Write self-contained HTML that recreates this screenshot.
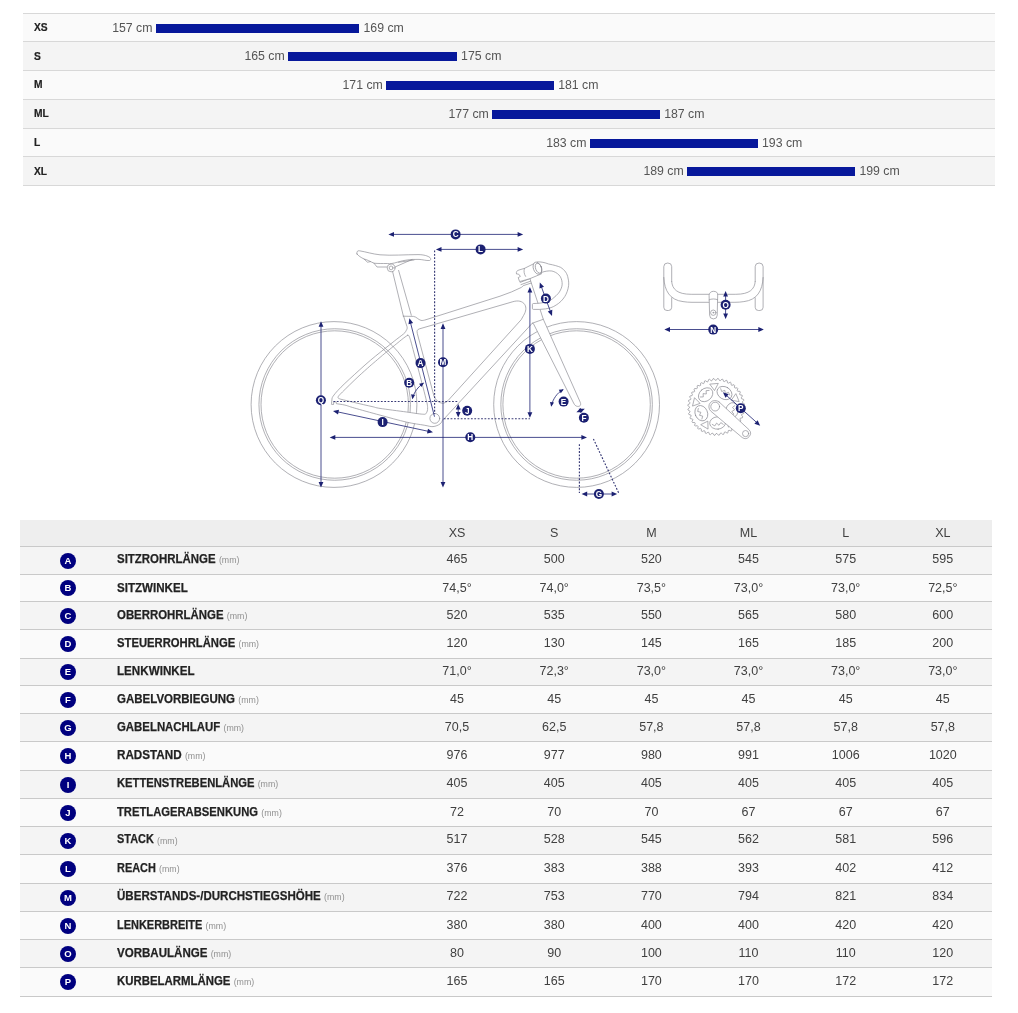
<!DOCTYPE html>
<html lang="de"><head><meta charset="utf-8"><title>Geometrie</title>
<style>
html,body{margin:0;padding:0;background:#fff;}
body{width:1018px;height:1013px;position:relative;overflow:hidden;font-family:"Liberation Sans", sans-serif;color:#333;}
.abs{position:absolute;}
.row{position:absolute;left:23px;width:972px;}
.hl{position:absolute;height:1px;background:#d8d8d8;}
.hg{position:absolute;height:1px;background:#c9c9c9;}
.sz{position:absolute;left:34px;font-weight:bold;font-size:11px;line-height:12px;color:#222;transform-origin:0 50%;transform:scaleX(0.93);-webkit-text-stroke:0.2px #222;}
.cm{position:absolute;font-size:12.3px;line-height:12px;color:#555;white-space:nowrap;}
.bar{position:absolute;background:#07189b;}
.g{position:absolute;left:20px;width:971.5px;}
.ic{position:absolute;left:60px;width:16px;height:16px;border-radius:50%;background:#00007f;color:#fff;font-weight:bold;font-size:9.5px;line-height:16px;text-align:center;}
.lb{position:absolute;left:116.6px;font-weight:bold;font-size:12.5px;line-height:14px;color:#222;white-space:nowrap;-webkit-text-stroke:0.25px #222;}
.lb span{display:inline-block;transform-origin:0 50%;}
.mm{position:absolute;font-size:8.8px;line-height:10px;color:#909090;white-space:nowrap;}
.v{position:absolute;width:98px;text-align:center;font-size:12.5px;line-height:14px;color:#404040;white-space:nowrap;}
</style></head><body>
<div class="row" style="top:13px;height:28px;background:#fafafa"></div>
<div class="row" style="top:41px;height:29px;background:#f4f4f4"></div>
<div class="row" style="top:70px;height:29px;background:#fafafa"></div>
<div class="row" style="top:99px;height:29px;background:#f4f4f4"></div>
<div class="row" style="top:128px;height:28px;background:#fafafa"></div>
<div class="row" style="top:156px;height:29px;background:#f4f4f4"></div>
<div class="hl" style="left:23px;width:972px;top:13px"></div>
<div class="hl" style="left:23px;width:972px;top:41px"></div>
<div class="hl" style="left:23px;width:972px;top:70px"></div>
<div class="hl" style="left:23px;width:972px;top:99px"></div>
<div class="hl" style="left:23px;width:972px;top:128px"></div>
<div class="hl" style="left:23px;width:972px;top:156px"></div>
<div class="hl" style="left:23px;width:972px;top:185px"></div>
<div class="sz" style="top:21.2px">XS</div>
<div class="cm" style="right:865.5px;top:21.6px">157 cm</div>
<div class="bar" style="left:156.0px;top:24.0px;width:203.2px;height:9.0px"></div>
<div class="cm" style="left:363.5px;top:21.6px">169 cm</div>
<div class="sz" style="top:49.7px">S</div>
<div class="cm" style="right:733.3px;top:50.1px">165 cm</div>
<div class="bar" style="left:288.2px;top:52.0px;width:168.6px;height:9.0px"></div>
<div class="cm" style="left:461.1px;top:50.1px">175 cm</div>
<div class="sz" style="top:78.1px">M</div>
<div class="cm" style="right:635.2px;top:79.1px">171 cm</div>
<div class="bar" style="left:386.3px;top:81.0px;width:167.6px;height:9.0px"></div>
<div class="cm" style="left:558.2px;top:79.1px">181 cm</div>
<div class="sz" style="top:107.1px">ML</div>
<div class="cm" style="right:529.2px;top:108.1px">177 cm</div>
<div class="bar" style="left:492.3px;top:110.0px;width:167.6px;height:9.0px"></div>
<div class="cm" style="left:664.2px;top:108.1px">187 cm</div>
<div class="sz" style="top:136.2px">L</div>
<div class="cm" style="right:431.5px;top:136.6px">183 cm</div>
<div class="bar" style="left:590.0px;top:139.0px;width:167.7px;height:9.0px"></div>
<div class="cm" style="left:762.0px;top:136.6px">193 cm</div>
<div class="sz" style="top:164.7px">XL</div>
<div class="cm" style="right:334.3px;top:165.1px">189 cm</div>
<div class="bar" style="left:687.2px;top:167.0px;width:167.9px;height:9.0px"></div>
<div class="cm" style="left:859.4px;top:165.1px">199 cm</div>
<svg class="abs" style="left:0;top:0" width="1018" height="1013" viewBox="0 0 1018 1013">
<g fill="none" stroke="#8e8e95" stroke-width="0.7" stroke-linecap="round" stroke-linejoin="round">
<circle cx="334.0" cy="404.5" r="82.9" stroke-linecap="butt"/>
<circle cx="334.7" cy="404.5" r="75.75" stroke-linecap="butt"/>
<circle cx="334.7" cy="404.5" r="73.7" stroke-linecap="butt"/>
<circle cx="576.6" cy="404.5" r="82.9" stroke-linecap="butt"/>
<circle cx="576.6" cy="404.5" r="75.75" stroke-linecap="butt"/>
<circle cx="576.6" cy="404.5" r="73.7" stroke-linecap="butt"/>
<path d="M357,254 C356.5,251.5 357.5,250.5 359.5,250.8 C366,251.8 372,254 380,254.8 C392,255.8 405,254.6 418,254.6 C424,254.6 428,256 430,257.6 C431.2,258.8 430.8,260.3 429.5,260.5 C426,260.8 423,259.6 419,259.4 C411,259.2 404,260 398,262 C393,263.5 390,264 387.5,263.5 C382,263.5 378,263.6 374,263.2 C370,261.5 367,259.5 364,259 C361,257.5 358.5,256 357,254 Z"/>
<path d="M364,259 L367.5,262.2 L370.5,261.6 M374,263.2 L377,267 L387,267 M395,267 L412,259.5 M398.5,262.3 L414,260"/>
<circle cx="391.1" cy="267.9" r="3.9" fill="#fff"/><circle cx="391.1" cy="267.9" r="1.9"/>
<path d="M392.6,271.6 L403.4,316.2 M398.6,270.4 L411.3,315.2"/>
<path fill="#fff" fill-rule="evenodd" d="M403.6,316.2 L413.5,316.4 C416.5,316.8 418,319.5 421,320.4 C422.5,320.7 424,320.3 426,319.7 L500,296.2 Q512,292.2 521.6,287.3 L523.2,285.7 L531.3,283 L543.3,319.3 L580.3,402.4 C581.4,405.2 579.8,406.6 577.6,406.4 C575.6,406.2 574.6,405 573.6,403 L533.4,323.6 L532.3,323.2 L443.8,419.2 C443.6,419.3 443.4,418.8 442.8,419.6 C442.2,420.4 441.7,422.7 440.1,423.9 C438.5,425.1 435.6,426.4 433.0,426.6 C430.4,426.8 428.6,425.9 424.2,425.2 C419.8,424.4 413.9,423.8 406.5,422.1 C399.1,420.4 388.7,417.5 380.0,415.1 C371.3,412.8 360.2,409.7 354.3,408.0 C348.4,406.3 347.9,405.8 344.9,405.1 C341.9,404.4 337.8,403.9 336.4,403.7 L336.1,401.8 L333.8,401.9 L333.5,404.5 L331.4,404.3 L331.5,403.7 L332.1,398.1 C332.3,397.8 332.2,397.5 333.1,396.2 C334.1,394.9 335.8,392.6 337.8,390.5 C339.8,388.4 342.1,386.0 344.9,383.4 C347.6,380.8 350.9,377.8 354.3,374.7 C357.7,371.6 361.5,368.1 365.0,365.0 C368.5,361.9 372.1,358.9 375.4,356.2 C378.7,353.5 381.8,351.1 384.9,348.6 C388.0,346.1 391.2,343.6 394.3,341.1 C397.4,338.6 401.7,335.5 403.7,333.8 C405.7,332.1 405.5,331.6 406.1,330.7 C406.7,329.8 407.1,328.9 407.2,328.2 C407.3,327.5 407.0,326.9 407.0,326.6 L403.6,316.2 Z M417.2,333 C416.6,330.6 417.4,329.4 419.6,328.8 L512.9,301.7 C518,300.2 522.5,301 524.8,304.6 C526.6,307.6 526,311.5 523.6,315.4 L521.2,319.7 L448,400.6 C446.4,402.4 444,403.4 442,403.2 C438.6,402.8 435.6,400 434.1,396.4 Z M407.5,335.4 C406.9,335.8 405.9,336.3 403.7,338.0 C401.5,339.7 397.4,343.1 394.3,345.6 C391.2,348.2 388.0,350.7 384.9,353.3 C381.8,355.9 377.9,359.2 375.4,361.4 C372.9,363.5 372.5,363.8 369.8,366.2 C367.1,368.6 362.4,372.8 359.0,375.9 C355.6,379.0 352.4,382.2 349.6,384.9 C346.9,387.6 344.4,390.0 342.5,391.9 C340.6,393.8 339.2,395.2 338.5,396.2 C337.8,397.2 338.0,397.6 338.3,398.1 C338.6,398.6 339.0,398.6 340.1,399.0 C341.2,399.4 342.5,399.6 344.9,400.2 C347.3,400.8 351.2,401.8 354.3,402.5 C357.4,403.2 360.6,404.0 363.7,404.7 C366.8,405.4 370.4,406.2 373.1,406.8 C375.8,407.4 374.4,407.5 380.0,408.4 C385.6,409.3 399.4,411.0 406.5,412.0 C413.6,413.0 419.3,414.0 422.6,414.2 C425.9,414.4 425.4,414.3 426.2,413.2 C427.0,412.1 427.8,410.4 427.6,407.5 C427.4,404.6 427.6,405.3 425.2,395.7 C422.8,386.1 415.7,359.4 413.1,349.6 C410.5,339.8 410.3,339.2 409.4,336.8 C408.5,334.4 407.8,335.6 407.5,335.4 Z"/>
<clipPath id="ssb"><polygon points="403.7,333.8 394.3,341.1 384.9,348.6 375.4,356.2 365.0,365.0 354.3,374.7 344.9,383.4 337.8,390.5 342.5,391.9 349.6,384.9 359.0,375.9 369.8,366.2 375.4,361.4 384.9,353.3 394.3,345.6 403.7,338.0"/></clipPath>
<g clip-path="url(#ssb)"><circle cx="334.0" cy="404.5" r="82.9"/><circle cx="334.7" cy="404.5" r="75.75"/><circle cx="334.7" cy="404.5" r="73.7"/></g>
<circle cx="434.8" cy="418.4" r="4.9" fill="#fff"/>
<path d="M532.3,323.2 L543.3,319.3"/>
<path d="M521,284.6 L530.5,281.2 M520.2,282.4 L530,278.6 M530,278.6 L531.3,283"/>
<path fill="#fff" d="M516.4,273.6 C516,271.6 517,270.6 519,270 L524.4,268.4 L536,262.6 L541.6,273.8 L530,278.6 L519.6,281.6 L518.2,277.6 L520.4,276.4 L518.8,274.4 Z"/>
<path d="M524.4,268.4 C523.6,271 524,274 525.6,276.4"/>
<path fill="#fff" d="M537.3,261.9 C541,261.6 545,262.6 548.6,264 C554,265 558,266.2 560.5,267.3 C565,270 567.4,274 568,278 C568.8,281 568.8,283.5 568.6,285.7 C568,290 566.6,293.6 564.8,296.5 C562.6,300 559.6,303 556.2,305 C553,307.2 549.4,308.4 545.4,308.9 C541.4,309.5 537.4,309.5 533.5,309.4 C532.7,309.4 532.4,309 532.4,308.4 L532.4,304.5 C532.4,303.8 532.8,303.5 533.5,303.5 C538,303.5 542.4,303 546.5,301.9 C549.4,301 552,299.5 554,297.5 C557,295 559.4,292.6 560.5,290 C561.8,287.5 562.4,285 562.1,282.4 C561.8,279.4 560.8,276.8 558.9,274.9 C557,273 554.6,271.6 551.9,271 C548.6,270.6 545,271.2 541.6,272.4 Z"/>
<ellipse cx="537.4" cy="268.2" rx="4.0" ry="6.3" transform="rotate(-20 537.4 268.2)" fill="#fff"/>
<ellipse cx="538.6" cy="268.2" rx="3.0" ry="5.2" transform="rotate(-20 538.6 268.2)"/>
<path d="M671.7,281.6 L671.7,266.6 A3.95,3.6 0 0 0 663.8,266.6 L663.8,307.3 A3.2,3.2 0 0 0 667.0,310.5 L668.5,310.5 A3.2,3.2 0 0 0 671.7,307.3 L671.7,297.8"/>
<path d="M755.2,281.6 L755.2,266.6 A3.95,3.6 0 0 1 763.1,266.6 L763.1,307.3 A3.2,3.2 0 0 1 759.9,310.5 L758.4,310.5 A3.2,3.2 0 0 1 755.2,307.3 L755.2,297.8"/>
<path d="M671.7,281.6 C672.2,289 677,294.3 691.2,294.3 L709.1,294.3 M717.7,294.3 L735.7,294.3 C749.9,294.3 754.7,289 755.2,281.6"/>
<path d="M663.8,277.5 C664.4,291 670,300 683,301.6 C686,302.1 689,302.3 692,302.3 L709.1,302.3 M717.7,302.3 L734.9,302.3 C737.9,302.3 740.9,302.1 743.9,301.6 C756.9,300 762.5,291 763.1,277.5"/>
<path fill="#fff" d="M709.1,295 A4.3,3.7 0 0 1 717.7,295 L717.2,315.4 A3.8,3.5 0 0 1 709.6,315.4 Z"/>
<path d="M709.1,299.8 C711,298.6 716,298.6 717.7,299.8"/>
<circle cx="713.3" cy="312.7" r="2.7"/><circle cx="713.3" cy="312.7" r="0.5"/>
<polygon points="742.8,406.9 744.6,408.2 744.5,409.1 742.6,410.2 742.5,411.1 744.0,412.7 743.8,413.5 741.7,414.3 741.5,415.1 742.8,416.9 742.4,417.8 740.3,418.2 739.9,419.0 740.9,421.0 740.4,421.7 738.2,421.9 737.7,422.5 738.4,424.7 737.8,425.3 735.6,425.1 735.0,425.7 735.3,427.9 734.6,428.5 732.5,427.9 731.8,428.4 731.8,430.6 731.0,431.1 729.0,430.2 728.3,430.6 727.9,432.8 727.1,433.1 725.2,431.9 724.4,432.2 723.7,434.3 722.8,434.5 721.2,433.0 720.4,433.2 719.3,435.1 718.4,435.2 717.0,433.5 716.2,433.5 714.9,435.3 714.0,435.2 712.9,433.3 712.0,433.2 710.4,434.7 709.6,434.5 708.8,432.4 708.0,432.2 706.2,433.5 705.3,433.1 704.9,431.0 704.1,430.6 702.1,431.6 701.4,431.1 701.2,428.9 700.6,428.4 698.4,429.1 697.8,428.5 698.0,426.3 697.4,425.7 695.2,426.0 694.6,425.3 695.2,423.2 694.7,422.5 692.5,422.5 692.0,421.7 692.9,419.7 692.5,419.0 690.3,418.6 690.0,417.8 691.2,415.9 690.9,415.1 688.8,414.4 688.6,413.5 690.1,411.9 689.9,411.1 688.0,410.0 687.9,409.1 689.6,407.7 689.6,406.9 687.8,405.6 687.9,404.7 689.8,403.6 689.9,402.7 688.4,401.1 688.6,400.3 690.7,399.5 690.9,398.7 689.6,396.9 690.0,396.0 692.1,395.6 692.5,394.8 691.5,392.8 692.0,392.1 694.2,391.9 694.7,391.3 694.0,389.1 694.6,388.5 696.8,388.7 697.4,388.1 697.1,385.9 697.8,385.3 699.9,385.9 700.6,385.4 700.6,383.2 701.4,382.7 703.4,383.6 704.1,383.2 704.5,381.0 705.3,380.7 707.2,381.9 708.0,381.6 708.7,379.5 709.6,379.3 711.2,380.8 712.0,380.6 713.1,378.7 714.0,378.6 715.4,380.3 716.2,380.3 717.5,378.5 718.4,378.6 719.5,380.5 720.4,380.6 722.0,379.1 722.8,379.3 723.6,381.4 724.4,381.6 726.2,380.3 727.1,380.7 727.5,382.8 728.3,383.2 730.3,382.2 731.0,382.7 731.2,384.9 731.8,385.4 734.0,384.7 734.6,385.3 734.4,387.5 735.0,388.1 737.2,387.8 737.8,388.5 737.2,390.6 737.7,391.3 739.9,391.3 740.4,392.1 739.5,394.1 739.9,394.8 742.1,395.2 742.4,396.0 741.2,397.9 741.5,398.7 743.6,399.4 743.8,400.3 742.3,401.9 742.5,402.7 744.4,403.8 744.5,404.7 742.8,406.1"/>
<ellipse cx="705.6" cy="394.7" rx="6.2" ry="7.9" transform="rotate(-131 705.6 394.7)"/>
<polyline points="700.3,397.0 703.3,396.9 703.1,393.6 706.3,394.0 706.1,390.7 709.1,390.4"/>
<ellipse cx="724.5" cy="393.0" rx="6.2" ry="7.9" transform="rotate(-59 724.5 393.0)"/>
<polyline points="720.7,388.7 721.7,391.5 724.8,390.3 725.4,393.5 728.5,392.3 729.7,395.1"/>
<ellipse cx="732.0" cy="410.5" rx="6.2" ry="7.9" transform="rotate(13 732.0 410.5)"/>
<polyline points="734.9,405.6 732.5,407.4 734.6,409.9 731.8,411.5 733.8,414.1 731.6,416.1"/>
<ellipse cx="717.6" cy="423.0" rx="6.2" ry="7.9" transform="rotate(85 717.6 423.0)"/>
<polyline points="723.2,424.3 720.8,422.6 719.0,425.3 716.6,423.1 714.8,425.9 712.2,424.4"/>
<ellipse cx="701.3" cy="413.2" rx="6.2" ry="7.9" transform="rotate(157 701.3 413.2)"/>
<polyline points="701.9,419.0 702.7,416.1 699.5,415.3 700.9,412.3 697.7,411.5 698.3,408.5"/>
<polygon points="710.1,384.1 718.3,383.4 714.7,390.2"/>
<polygon points="736.0,394.0 739.2,401.6 731.7,400.3"/>
<polygon points="734.5,421.8 728.4,427.1 727.2,419.6"/>
<polygon points="707.7,428.9 700.7,424.7 707.5,421.3"/>
<polygon points="692.6,405.7 694.5,397.7 699.8,403.1"/>
<path d="M719.1,401.95 L749,429.7 A5.2,5.2 0 0 1 742.2,437.5 L710.9,411.25 A6.2,6.2 0 0 1 719.1,401.95 Z" fill="#fff"/>
<circle cx="715.2" cy="406.6" r="4.4"/>
<circle cx="745.6" cy="433.6" r="3.1"/>
</g>
<g stroke="#1c2172" stroke-width="0.8" fill="none">
<line x1="391.4" y1="234.4" x2="520.2" y2="234.4"/><polygon fill="#1c2172" stroke="none" points="523.2,234.4 517.6,236.8 517.6,232.0"/><polygon fill="#1c2172" stroke="none" points="388.4,234.4 394.0,232.0 394.0,236.8"/>
<line x1="438.9" y1="249.4" x2="520.2" y2="249.4"/><polygon fill="#1c2172" stroke="none" points="523.2,249.4 517.6,251.8 517.6,247.0"/><polygon fill="#1c2172" stroke="none" points="435.9,249.4 441.5,247.0 441.5,251.8"/>
<line x1="321.0" y1="324.2" x2="321.0" y2="484.5"/><polygon fill="#1c2172" stroke="none" points="321.0,487.5 318.6,481.9 323.4,481.9"/><polygon fill="#1c2172" stroke="none" points="321.0,321.2 323.4,326.8 318.6,326.8"/>
<line x1="443.0" y1="326.3" x2="443.0" y2="484.5"/><polygon fill="#1c2172" stroke="none" points="443.0,487.5 440.6,481.9 445.4,481.9"/><polygon fill="#1c2172" stroke="none" points="443.0,323.3 445.4,328.9 440.6,328.9"/>
<line x1="434.5" y1="416.7" x2="410.1" y2="321.1"/><polygon fill="#1c2172" stroke="none" points="409.4,318.2 413.1,323.0 408.5,324.2"/>
<line x1="529.9" y1="290.0" x2="529.9" y2="414.8"/><polygon fill="#1c2172" stroke="none" points="529.9,417.8 527.5,412.2 532.3,412.2"/><polygon fill="#1c2172" stroke="none" points="529.9,287.0 532.3,292.6 527.5,292.6"/>
<line x1="540.8" y1="285.2" x2="551.0" y2="313.1"/><polygon fill="#1c2172" stroke="none" points="552.0,315.9 547.8,311.5 552.3,309.8"/><polygon fill="#1c2172" stroke="none" points="539.8,282.4 544.0,286.8 539.5,288.5"/>
<line x1="335.9" y1="411.5" x2="430.1" y2="431.7"/><polygon fill="#1c2172" stroke="none" points="433.0,432.3 427.0,433.5 428.0,428.8"/><polygon fill="#1c2172" stroke="none" points="333.0,410.9 339.0,409.7 338.0,414.4"/>
<line x1="332.7" y1="437.4" x2="584.0" y2="437.4"/><polygon fill="#1c2172" stroke="none" points="587.0,437.4 581.4,439.8 581.4,435.0"/><polygon fill="#1c2172" stroke="none" points="329.7,437.4 335.3,435.0 335.3,439.8"/>
<line x1="458.2" y1="406.9" x2="458.2" y2="414.6"/><polygon fill="#1c2172" stroke="none" points="458.2,417.6 455.8,412.0 460.6,412.0"/><polygon fill="#1c2172" stroke="none" points="458.2,403.9 460.6,409.5 455.8,409.5"/>
<line x1="584.6" y1="494.0" x2="614.2" y2="494.0"/><polygon fill="#1c2172" stroke="none" points="617.2,494.0 611.6,496.4 611.6,491.6"/><polygon fill="#1c2172" stroke="none" points="581.6,494.0 587.2,491.6 587.2,496.4"/>
<line x1="667.4" y1="329.5" x2="760.9" y2="329.5"/><polygon fill="#1c2172" stroke="none" points="763.9,329.5 758.3,331.9 758.3,327.1"/><polygon fill="#1c2172" stroke="none" points="664.4,329.5 670.0,327.1 670.0,331.9"/>
<line x1="725.6" y1="294.0" x2="725.6" y2="316.0"/><polygon fill="#1c2172" stroke="none" points="725.6,319.0 723.2,313.4 728.0,313.4"/><polygon fill="#1c2172" stroke="none" points="725.6,291.0 728.0,296.6 723.2,296.6"/>
<line x1="725.1" y1="394.2" x2="758.0" y2="423.7"/><polygon fill="#1c2172" stroke="none" points="760.2,425.7 754.4,423.7 757.6,420.2"/><polygon fill="#1c2172" stroke="none" points="722.9,392.2 728.7,394.2 725.5,397.7"/>
<line x1="579.2" y1="411.1" x2="582.0" y2="409.9"/><polygon fill="#1c2172" stroke="none" points="584.8,408.7 580.6,413.1 578.7,408.7"/><polygon fill="#1c2172" stroke="none" points="576.4,412.3 580.6,407.9 582.5,412.3"/>
<path d="M423.4,383.2 C418,387 414,392 412.6,398.4"/>
<polygon fill="#1c2172" stroke="none" points="424.0,382.8 421.4,387.1 419.1,383.8"/><polygon fill="#1c2172" stroke="none" points="412.3,399.2 411.1,394.3 415.1,395.0"/>
<path d="M563,389.6 C557,393 553,399 551.4,405.6"/>
<polygon fill="#1c2172" stroke="none" points="563.8,389.2 560.8,393.2 558.8,389.8"/><polygon fill="#1c2172" stroke="none" points="551.2,406.8 550.0,401.9 554.0,402.6"/>
<g stroke-width="1.15" stroke="#383a76">
<line stroke-dasharray="1.8 1.59" x1="434.6" y1="250.5" x2="434.6" y2="414"/>
<line stroke-dasharray="1.8 1.59" x1="333.4" y1="401.5" x2="458.4" y2="401.5"/>
<line stroke-dasharray="1.8 1.59" x1="443.8" y1="418.7" x2="529.9" y2="418.7"/>
<line stroke-dasharray="1.8 1.59" x1="579.4" y1="444.3" x2="579.4" y2="493"/>
<line stroke-dasharray="1.8 1.59" x1="593.4" y1="438.9" x2="618.9" y2="493.4"/>
</g>
</g>
<g font-family="Liberation Sans, sans-serif" font-weight="bold" font-size="8.2" text-anchor="middle" fill="#fff">
<circle cx="455.6" cy="234.4" r="5" fill="#1c2172"/><text x="455.6" y="237.3">C</text>
<circle cx="480.6" cy="249.4" r="5" fill="#1c2172"/><text x="480.6" y="252.3">L</text>
<circle cx="320.9" cy="400.2" r="5" fill="#1c2172"/><text x="320.9" y="403.1">Q</text>
<circle cx="443.0" cy="362.2" r="5" fill="#1c2172"/><text x="443.0" y="365.1">M</text>
<circle cx="420.5" cy="363.1" r="5" fill="#1c2172"/><text x="420.5" y="366.1">A</text>
<circle cx="409.2" cy="382.8" r="5" fill="#1c2172"/><text x="409.2" y="385.8">B</text>
<circle cx="529.9" cy="348.9" r="5" fill="#1c2172"/><text x="529.9" y="351.8">K</text>
<circle cx="545.9" cy="298.6" r="5" fill="#1c2172"/><text x="545.9" y="301.6">D</text>
<circle cx="382.6" cy="422.1" r="5" fill="#1c2172"/><text x="382.6" y="425.1">I</text>
<circle cx="470.3" cy="437.3" r="5" fill="#1c2172"/><text x="470.3" y="440.2">H</text>
<circle cx="467.2" cy="410.7" r="5" fill="#1c2172"/><text x="467.2" y="413.6">J</text>
<circle cx="563.6" cy="401.6" r="5" fill="#1c2172"/><text x="563.6" y="404.6">E</text>
<circle cx="583.9" cy="417.8" r="5" fill="#1c2172"/><text x="583.9" y="420.8">F</text>
<circle cx="598.9" cy="494.0" r="5" fill="#1c2172"/><text x="598.9" y="496.9">G</text>
<circle cx="713.2" cy="329.6" r="5" fill="#1c2172"/><text x="713.2" y="332.6">N</text>
<circle cx="725.6" cy="304.7" r="5" fill="#1c2172"/><text x="725.6" y="307.6">O</text>
<circle cx="740.8" cy="408.2" r="5" fill="#1c2172"/><text x="740.8" y="411.1">P</text>
</g>
</svg>
<div class="g" style="top:520px;height:26px;background:#eeeeee"></div>
<div class="v" style="left:408.0px;top:525.8px">XS</div>
<div class="v" style="left:505.2px;top:525.8px">S</div>
<div class="v" style="left:602.4px;top:525.8px">M</div>
<div class="v" style="left:699.5px;top:525.8px">ML</div>
<div class="v" style="left:796.7px;top:525.8px">L</div>
<div class="v" style="left:893.8px;top:525.8px">XL</div>
<div class="g" style="top:546px;height:28px;background:#f4f4f4"></div>
<div class="g" style="top:574px;height:27px;background:#fafafa"></div>
<div class="g" style="top:601px;height:28px;background:#f4f4f4"></div>
<div class="g" style="top:629px;height:29px;background:#fafafa"></div>
<div class="g" style="top:658px;height:27px;background:#f4f4f4"></div>
<div class="g" style="top:685px;height:28px;background:#fafafa"></div>
<div class="g" style="top:713px;height:28px;background:#f4f4f4"></div>
<div class="g" style="top:741px;height:29px;background:#fafafa"></div>
<div class="g" style="top:770px;height:28px;background:#f4f4f4"></div>
<div class="g" style="top:798px;height:28px;background:#fafafa"></div>
<div class="g" style="top:826px;height:28px;background:#f4f4f4"></div>
<div class="g" style="top:854px;height:29px;background:#fafafa"></div>
<div class="g" style="top:883px;height:28px;background:#f4f4f4"></div>
<div class="g" style="top:911px;height:28px;background:#fafafa"></div>
<div class="g" style="top:939px;height:28px;background:#f4f4f4"></div>
<div class="g" style="top:967px;height:29px;background:#fafafa"></div>
<div class="hg" style="left:20px;width:971.5px;top:546px"></div>
<div class="hg" style="left:20px;width:971.5px;top:574px"></div>
<div class="hg" style="left:20px;width:971.5px;top:601px"></div>
<div class="hg" style="left:20px;width:971.5px;top:629px"></div>
<div class="hg" style="left:20px;width:971.5px;top:658px"></div>
<div class="hg" style="left:20px;width:971.5px;top:685px"></div>
<div class="hg" style="left:20px;width:971.5px;top:713px"></div>
<div class="hg" style="left:20px;width:971.5px;top:741px"></div>
<div class="hg" style="left:20px;width:971.5px;top:770px"></div>
<div class="hg" style="left:20px;width:971.5px;top:798px"></div>
<div class="hg" style="left:20px;width:971.5px;top:826px"></div>
<div class="hg" style="left:20px;width:971.5px;top:854px"></div>
<div class="hg" style="left:20px;width:971.5px;top:883px"></div>
<div class="hg" style="left:20px;width:971.5px;top:911px"></div>
<div class="hg" style="left:20px;width:971.5px;top:939px"></div>
<div class="hg" style="left:20px;width:971.5px;top:967px"></div>
<div class="hg" style="left:20px;width:971.5px;top:996px"></div>
<div class="ic" style="top:552.5px">A</div>
<div class="lb" id="lb0" style="top:551.9px"><span style="transform:scaleX(0.9160)">SITZROHRLÄNGE</span></div>
<div class="mm" style="left:218.9px;top:555.0px">(mm)</div>
<div class="v" style="left:408.0px;top:551.8px">465</div>
<div class="v" style="left:505.2px;top:551.8px">500</div>
<div class="v" style="left:602.4px;top:551.8px">520</div>
<div class="v" style="left:699.5px;top:551.8px">545</div>
<div class="v" style="left:796.7px;top:551.8px">575</div>
<div class="v" style="left:893.8px;top:551.8px">595</div>
<div class="ic" style="top:580.0px">B</div>
<div class="lb" id="lb1" style="top:580.7px"><span style="transform:scaleX(0.9256)">SITZWINKEL</span></div>
<div class="v" style="left:408.0px;top:580.6px">74,5°</div>
<div class="v" style="left:505.2px;top:580.6px">74,0°</div>
<div class="v" style="left:602.4px;top:580.6px">73,5°</div>
<div class="v" style="left:699.5px;top:580.6px">73,0°</div>
<div class="v" style="left:796.7px;top:580.6px">73,0°</div>
<div class="v" style="left:893.8px;top:580.6px">72,5°</div>
<div class="ic" style="top:607.5px">C</div>
<div class="lb" id="lb2" style="top:607.9px"><span style="transform:scaleX(0.9128)">OBERROHRLÄNGE</span></div>
<div class="mm" style="left:226.8px;top:611.0px">(mm)</div>
<div class="v" style="left:408.0px;top:607.8px">520</div>
<div class="v" style="left:505.2px;top:607.8px">535</div>
<div class="v" style="left:602.4px;top:607.8px">550</div>
<div class="v" style="left:699.5px;top:607.8px">565</div>
<div class="v" style="left:796.7px;top:607.8px">580</div>
<div class="v" style="left:893.8px;top:607.8px">600</div>
<div class="ic" style="top:636.0px">D</div>
<div class="lb" id="lb3" style="top:636.0px"><span style="transform:scaleX(0.9005)">STEUERROHRLÄNGE</span></div>
<div class="mm" style="left:238.5px;top:639.1px">(mm)</div>
<div class="v" style="left:408.0px;top:635.9px">120</div>
<div class="v" style="left:505.2px;top:635.9px">130</div>
<div class="v" style="left:602.4px;top:635.9px">145</div>
<div class="v" style="left:699.5px;top:635.9px">165</div>
<div class="v" style="left:796.7px;top:635.9px">185</div>
<div class="v" style="left:893.8px;top:635.9px">200</div>
<div class="ic" style="top:664.0px">E</div>
<div class="lb" id="lb4" style="top:663.8px"><span style="transform:scaleX(0.9311)">LENKWINKEL</span></div>
<div class="v" style="left:408.0px;top:663.7px">71,0°</div>
<div class="v" style="left:505.2px;top:663.7px">72,3°</div>
<div class="v" style="left:602.4px;top:663.7px">73,0°</div>
<div class="v" style="left:699.5px;top:663.7px">73,0°</div>
<div class="v" style="left:796.7px;top:663.7px">73,0°</div>
<div class="v" style="left:893.8px;top:663.7px">73,0°</div>
<div class="ic" style="top:691.5px">F</div>
<div class="lb" id="lb5" style="top:691.8px"><span style="transform:scaleX(0.9200)">GABELVORBIEGUNG</span></div>
<div class="mm" style="left:238.3px;top:694.9px">(mm)</div>
<div class="v" style="left:408.0px;top:691.7px">45</div>
<div class="v" style="left:505.2px;top:691.7px">45</div>
<div class="v" style="left:602.4px;top:691.7px">45</div>
<div class="v" style="left:699.5px;top:691.7px">45</div>
<div class="v" style="left:796.7px;top:691.7px">45</div>
<div class="v" style="left:893.8px;top:691.7px">45</div>
<div class="ic" style="top:719.5px">G</div>
<div class="lb" id="lb6" style="top:719.7px"><span style="transform:scaleX(0.9117)">GABELNACHLAUF</span></div>
<div class="mm" style="left:223.5px;top:722.8px">(mm)</div>
<div class="v" style="left:408.0px;top:719.6px">70,5</div>
<div class="v" style="left:505.2px;top:719.6px">62,5</div>
<div class="v" style="left:602.4px;top:719.6px">57,8</div>
<div class="v" style="left:699.5px;top:719.6px">57,8</div>
<div class="v" style="left:796.7px;top:719.6px">57,8</div>
<div class="v" style="left:893.8px;top:719.6px">57,8</div>
<div class="ic" style="top:748.0px">H</div>
<div class="lb" id="lb7" style="top:747.7px"><span style="transform:scaleX(0.9333)">RADSTAND</span></div>
<div class="mm" style="left:184.9px;top:750.8px">(mm)</div>
<div class="v" style="left:408.0px;top:747.6px">976</div>
<div class="v" style="left:505.2px;top:747.6px">977</div>
<div class="v" style="left:602.4px;top:747.6px">980</div>
<div class="v" style="left:699.5px;top:747.6px">991</div>
<div class="v" style="left:796.7px;top:747.6px">1006</div>
<div class="v" style="left:893.8px;top:747.6px">1020</div>
<div class="ic" style="top:776.5px">I</div>
<div class="lb" id="lb8" style="top:775.9px"><span style="transform:scaleX(0.8952)">KETTENSTREBENLÄNGE</span></div>
<div class="mm" style="left:257.7px;top:779.0px">(mm)</div>
<div class="v" style="left:408.0px;top:775.8px">405</div>
<div class="v" style="left:505.2px;top:775.8px">405</div>
<div class="v" style="left:602.4px;top:775.8px">405</div>
<div class="v" style="left:699.5px;top:775.8px">405</div>
<div class="v" style="left:796.7px;top:775.8px">405</div>
<div class="v" style="left:893.8px;top:775.8px">405</div>
<div class="ic" style="top:804.5px">J</div>
<div class="lb" id="lb9" style="top:804.7px"><span style="transform:scaleX(0.8983)">TRETLAGERABSENKUNG</span></div>
<div class="mm" style="left:261.3px;top:807.8px">(mm)</div>
<div class="v" style="left:408.0px;top:804.6px">72</div>
<div class="v" style="left:505.2px;top:804.6px">70</div>
<div class="v" style="left:602.4px;top:804.6px">70</div>
<div class="v" style="left:699.5px;top:804.6px">67</div>
<div class="v" style="left:796.7px;top:804.6px">67</div>
<div class="v" style="left:893.8px;top:804.6px">67</div>
<div class="ic" style="top:832.5px">K</div>
<div class="lb" id="lb10" style="top:832.4px"><span style="transform:scaleX(0.8735)">STACK</span></div>
<div class="mm" style="left:157.1px;top:835.5px">(mm)</div>
<div class="v" style="left:408.0px;top:832.3px">517</div>
<div class="v" style="left:505.2px;top:832.3px">528</div>
<div class="v" style="left:602.4px;top:832.3px">545</div>
<div class="v" style="left:699.5px;top:832.3px">562</div>
<div class="v" style="left:796.7px;top:832.3px">581</div>
<div class="v" style="left:893.8px;top:832.3px">596</div>
<div class="ic" style="top:861.0px">L</div>
<div class="lb" id="lb11" style="top:860.6px"><span style="transform:scaleX(0.8728)">REACH</span></div>
<div class="mm" style="left:159.1px;top:863.7px">(mm)</div>
<div class="v" style="left:408.0px;top:860.5px">376</div>
<div class="v" style="left:505.2px;top:860.5px">383</div>
<div class="v" style="left:602.4px;top:860.5px">388</div>
<div class="v" style="left:699.5px;top:860.5px">393</div>
<div class="v" style="left:796.7px;top:860.5px">402</div>
<div class="v" style="left:893.8px;top:860.5px">412</div>
<div class="ic" style="top:889.5px">M</div>
<div class="lb" id="lb12" style="top:888.8px"><span style="transform:scaleX(0.9238)">ÜBERSTANDS-/DURCHSTIEGSHÖHE</span></div>
<div class="mm" style="left:324.1px;top:891.9px">(mm)</div>
<div class="v" style="left:408.0px;top:888.7px">722</div>
<div class="v" style="left:505.2px;top:888.7px">753</div>
<div class="v" style="left:602.4px;top:888.7px">770</div>
<div class="v" style="left:699.5px;top:888.7px">794</div>
<div class="v" style="left:796.7px;top:888.7px">821</div>
<div class="v" style="left:893.8px;top:888.7px">834</div>
<div class="ic" style="top:917.5px">N</div>
<div class="lb" id="lb13" style="top:917.7px"><span style="transform:scaleX(0.8773)">LENKERBREITE</span></div>
<div class="mm" style="left:205.6px;top:920.8px">(mm)</div>
<div class="v" style="left:408.0px;top:917.6px">380</div>
<div class="v" style="left:505.2px;top:917.6px">380</div>
<div class="v" style="left:602.4px;top:917.6px">400</div>
<div class="v" style="left:699.5px;top:917.6px">400</div>
<div class="v" style="left:796.7px;top:917.6px">420</div>
<div class="v" style="left:893.8px;top:917.6px">420</div>
<div class="ic" style="top:945.5px">O</div>
<div class="lb" id="lb14" style="top:945.8px"><span style="transform:scaleX(0.9231)">VORBAULÄNGE</span></div>
<div class="mm" style="left:210.7px;top:948.9px">(mm)</div>
<div class="v" style="left:408.0px;top:945.7px">80</div>
<div class="v" style="left:505.2px;top:945.7px">90</div>
<div class="v" style="left:602.4px;top:945.7px">100</div>
<div class="v" style="left:699.5px;top:945.7px">110</div>
<div class="v" style="left:796.7px;top:945.7px">110</div>
<div class="v" style="left:893.8px;top:945.7px">120</div>
<div class="ic" style="top:974.0px">P</div>
<div class="lb" id="lb15" style="top:973.8px"><span style="transform:scaleX(0.9122)">KURBELARMLÄNGE</span></div>
<div class="mm" style="left:233.7px;top:976.9px">(mm)</div>
<div class="v" style="left:408.0px;top:973.7px">165</div>
<div class="v" style="left:505.2px;top:973.7px">165</div>
<div class="v" style="left:602.4px;top:973.7px">170</div>
<div class="v" style="left:699.5px;top:973.7px">170</div>
<div class="v" style="left:796.7px;top:973.7px">172</div>
<div class="v" style="left:893.8px;top:973.7px">172</div>
</body></html>
